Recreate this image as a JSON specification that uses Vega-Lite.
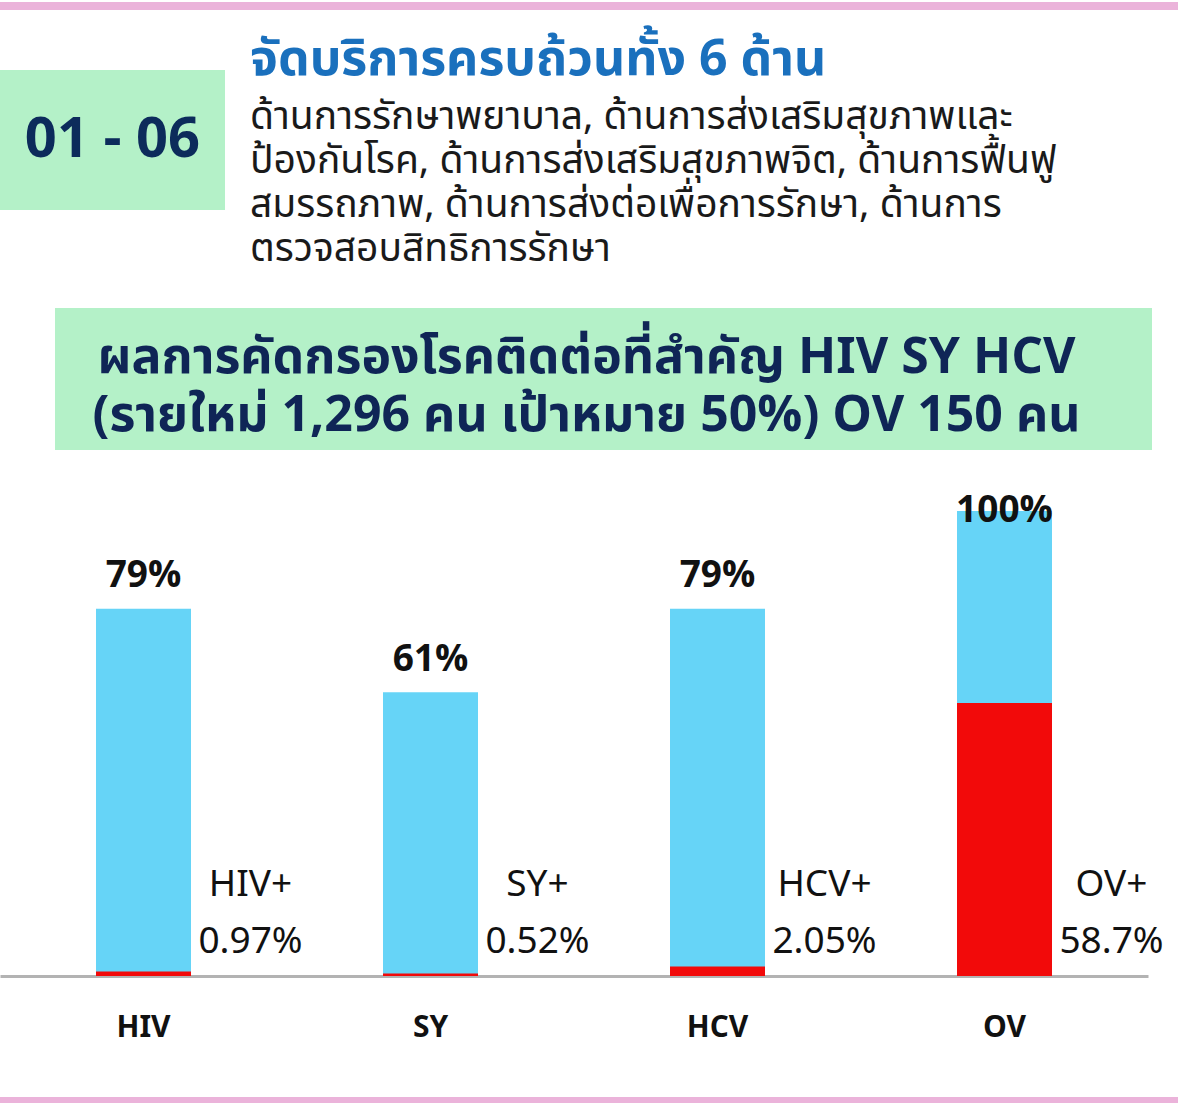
{
  "$schema": "https://vega.github.io/schema/vega-lite/v6.json",
  "background": "white",
  "padding": 0,
  "spacing": 24,
  "config": {
    "view": {"stroke": null},
    "font": "Noto Sans Thai"
  },
  "vconcat": [
    {
      "width": 1178,
      "height": 8,
      "view": {"fill": "#ebb3da", "stroke": null},
      "data": {"values": [{"t": ""}]},
      "mark": {"type": "text"},
      "encoding": {"text": {"field": "t"}}
    },
    {
      "spacing": 36,
      "vconcat": [
        {
          "hconcat": [
            {
              "width": 225,
              "height": 140,
              "view": {"fill": "#b4f1c8", "stroke": null},
              "data": {"values": [{"t": "01 - 06"}]},
              "mark": {"type": "text", "fontSize": 56, "fontWeight": "bold", "color": "#0c2b5b", "baseline": "middle", "align": "center"},
              "encoding": {"text": {"field": "t"}}
            },
            {
              "width": 900,
              "height": 202,
              "title": {"text": "จัดบริการครบถ้วนทั้ง 6 ด้าน", "anchor": "start", "fontSize": 50, "fontWeight": "bold", "color": "#1a70bd", "offset": -15},
              "data": {"values": [{"t": "ด้านการรักษาพยาบาล, ด้านการส่งเสริมสุขภาพและ\nป้องกันโรค, ด้านการส่งเสริมสุขภาพจิต, ด้านการฟื้นฟู\nสมรรถภาพ, ด้านการส่งต่อเพื่อการรักษา, ด้านการ\nตรวจสอบสิทธิการรักษา"}]},
              "mark": {"type": "text", "fontSize": 39, "lineHeight": 44, "lineBreak": "\n", "align": "left", "baseline": "middle", "dy": -54, "color": "#1a1a1a"},
              "encoding": {"text": {"field": "t"}, "x": {"value": 0}}
            }
          ],
          "spacing": 25
        },
        {
          "spacing": 42,
          "vconcat": [
            {
              "spacing": 0,
              "hconcat": [
                {
                  "width": 55,
                  "height": 142,
                  "data": {"values": [{"t": ""}]},
                  "mark": {"type": "text"},
                  "encoding": {"text": {"field": "t"}}
                },
                {
                  "width": 1097,
                  "height": 142,
                  "view": {"fill": "#b4f1c8", "stroke": null},
                  "data": {"values": [{"t": "ผลการคัดกรองโรคติดต่อที่สำคัญ HIV SY HCV\n(รายใหม่ 1,296 คน เป้าหมาย 50%) OV 150 คน"}]},
                  "mark": {"type": "text", "fontSize": 50, "fontWeight": "bold", "lineHeight": 58, "lineBreak": "\n", "align": "center", "baseline": "middle", "dx": -17, "dy": -21, "color": "#0f2556"},
                  "encoding": {"text": {"field": "t"}}
                }
              ]
            },
            {
              "spacing": 53,
              "vconcat": [
                {
                  "width": 1148,
                  "height": 465,
                  "data": {"values": [
                    {"test": "HIV", "screened": 79, "screenLabel": "79%", "positive": 0.97, "posName": "HIV+", "posLabel": "0.97%"},
                    {"test": "SY", "screened": 61, "screenLabel": "61%", "positive": 0.52, "posName": "SY+", "posLabel": "0.52%"},
                    {"test": "HCV", "screened": 79, "screenLabel": "79%", "positive": 2.05, "posName": "HCV+", "posLabel": "2.05%"},
                    {"test": "OV", "screened": 100, "screenLabel": "100%", "positive": 58.7, "posName": "OV+", "posLabel": "58.7%"}
                  ]},
                  "encoding": {
                    "x": {
                      "field": "test", "type": "nominal", "sort": null,
                      "scale": {"paddingInner": 0.669, "paddingOuter": 0.3345},
                      "axis": {"title": null, "labelAngle": 0, "labelFontSize": 30, "labelFontWeight": "bold", "labelColor": "#111111", "labelPadding": 36, "ticks": false, "tickSize": 0, "domainColor": "#b3b3b3", "domainWidth": 3, "grid": false}
                    }
                  },
                  "layer": [
                    {
                      "mark": {"type": "bar", "color": "#66d4f7"},
                      "encoding": {"y": {"field": "screened", "type": "quantitative", "scale": {"domain": [0, 100]}, "axis": null}}
                    },
                    {
                      "mark": {"type": "bar", "color": "#f20a0a"},
                      "encoding": {"y": {"field": "positive", "type": "quantitative", "scale": {"domain": [0, 100]}, "axis": null}}
                    },
                    {
                      "mark": {"type": "text", "fontSize": 37, "align": "center", "baseline": "middle", "dx": 107, "color": "#111111"},
                      "encoding": {"y": {"datum": 19.5, "type": "quantitative", "scale": {"domain": [0, 100]}, "axis": null}, "text": {"field": "posName"}}
                    },
                    {
                      "mark": {"type": "text", "fontSize": 37, "align": "center", "baseline": "middle", "dx": 107, "color": "#111111"},
                      "encoding": {"y": {"datum": 7.3, "type": "quantitative", "scale": {"domain": [0, 100]}, "axis": null}, "text": {"field": "posLabel"}}
                    },
                    {
                      "mark": {"type": "text", "fontSize": 37, "fontWeight": "bold", "align": "center", "baseline": "middle", "color": "#111111"},
                      "encoding": {"y": {"field": "screened", "type": "quantitative", "scale": {"domain": [-7, 93], "clamp": true}, "axis": null}, "text": {"field": "screenLabel"}}
                    }
                  ],
                  "resolve": {"scale": {"y": "independent"}}
                },
                {
                  "width": 1178,
                  "height": 8,
                  "view": {"fill": "#ebb3da", "stroke": null},
                  "data": {"values": [{"t": ""}]},
                  "mark": {"type": "text"},
                  "encoding": {"text": {"field": "t"}}
                }
              ]
            }
          ]
        }
      ]
    }
  ]
}
